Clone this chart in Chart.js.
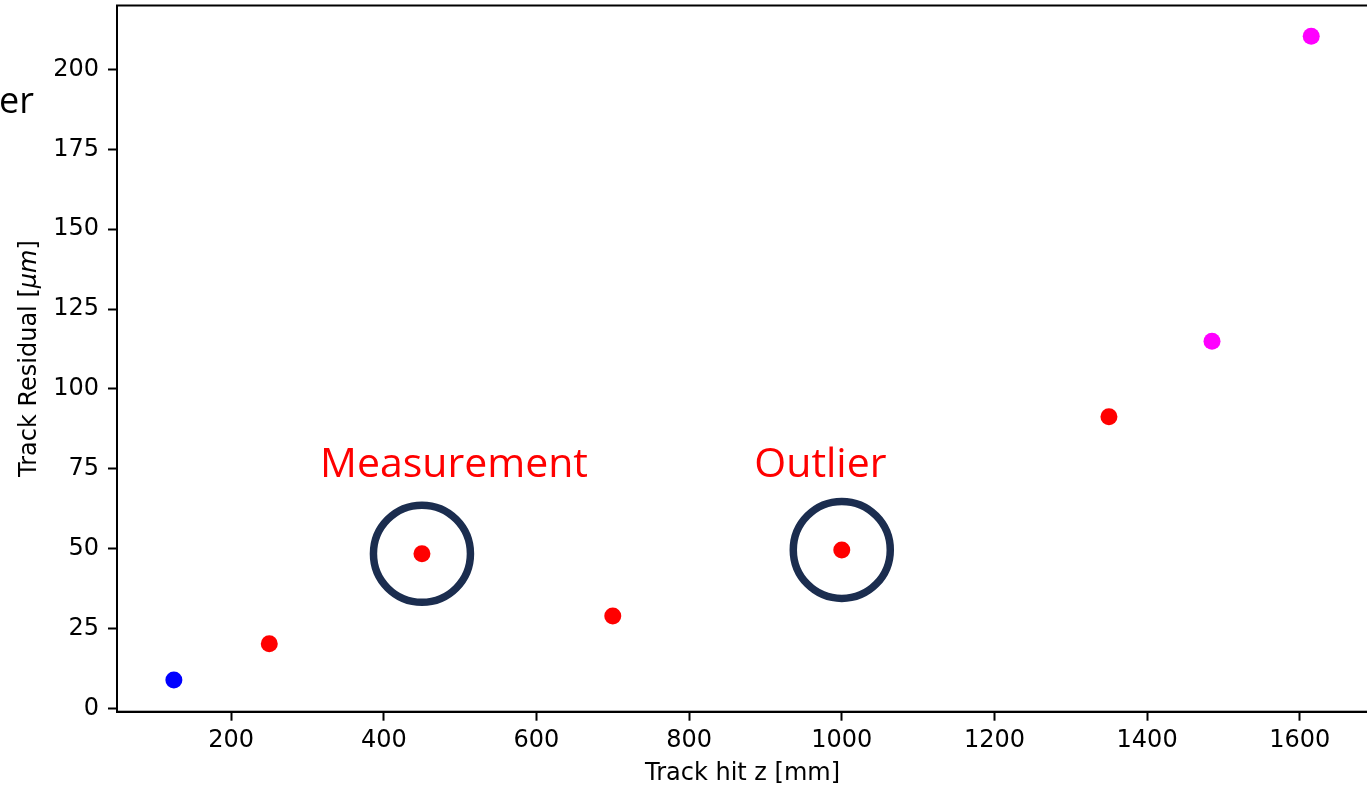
<!DOCTYPE html>
<html>
<head>
<meta charset="utf-8">
<script src="https://cdn.jsdelivr.net/npm/chart.js@4.4.1/dist/chart.umd.min.js"></script>
<style>
  html, body { margin: 0; padding: 0; background: #fff; overflow: hidden; }
  #chart { display: block; }
</style>
</head>
<body>
<canvas id="chart" width="1370" height="785"></canvas>
<script>
// hit positions along the track and their residuals
const hitZ = [125, 250, 450, 700, 1000, 1350, 1485, 1615];
const residuals = [8.9, 20.2, 48.4, 28.9, 49.6, 91.3, 114.9, 210.4];
const pointColors = ['#0000ff', '#ff0000', '#ff0000', '#ff0000', '#ff0000', '#ff0000', '#ff00ff', '#ff00ff'];

const xTicks = [200, 400, 600, 800, 1000, 1200, 1400, 1600];
const yTicks = [0, 25, 50, 75, 100, 125, 150, 175, 200];

// ringed hits and their labels (data units)
const ringedHits = [2, 4];
const labelNames = ['Measurement', 'Outlier'];
const labelZ = [492, 972];
const labelResidual = [72.5, 72.5];

const TICK_FONT = { family: 'DejaVu Sans', size: 24 };

const decorations = {
  id: 'decorations',
  afterDatasetsDraw(chart) {
    const { ctx, chartArea, scales } = chart;
    const xs = scales.x, ys = scales.y;
    ctx.save();

    // full frame (top/right spines)
    ctx.strokeStyle = '#000';
    ctx.lineWidth = 2;
    ctx.strokeRect(chartArea.left, chartArea.top, chartArea.right - chartArea.left, chartArea.bottom - chartArea.top);

    // rings around selected hits
    ctx.strokeStyle = '#1b2d4f';
    ctx.lineWidth = 7.5;
    ringedHits.forEach(i => {
      ctx.beginPath();
      ctx.arc(xs.getPixelForValue(hitZ[i]), ys.getPixelForValue(residuals[i]), 48.5, 0, Math.PI * 2);
      ctx.stroke();
    });

    // red labels
    ctx.fillStyle = '#ff0000';
    ctx.font = '41px "Open Sans"';
    ctx.textAlign = 'center';
    ctx.textBaseline = 'alphabetic';
    labelNames.forEach((t, i) => {
      ctx.fillText(t, xs.getPixelForValue(labelZ[i]), ys.getPixelForValue(labelResidual[i]));
    });

    // x axis title
    ctx.fillStyle = '#000';
    ctx.font = '24px "DejaVu Sans"';
    ctx.fillText('Track hit z [mm]', (chartArea.left + chartArea.right) / 2, 780);

    // y axis title with italic unit
    const parts = [['Track Residual [', 'normal'], ['\u03bcm', 'italic'], [']', 'normal']];
    let total = 0;
    parts.forEach(p => { ctx.font = p[1] + ' 24px "DejaVu Sans"'; total += ctx.measureText(p[0]).width; });
    ctx.translate(36, (chartArea.top + chartArea.bottom) / 2);
    ctx.rotate(-Math.PI / 2);
    ctx.textAlign = 'left';
    let x = -total / 2;
    parts.forEach(p => {
      ctx.font = p[1] + ' 24px "DejaVu Sans"';
      ctx.fillText(p[0], x, 0);
      x += ctx.measureText(p[0]).width;
    });
    ctx.restore();

    // cropped slide text at the left edge
    ctx.save();
    ctx.fillStyle = '#000';
    ctx.font = '36px "Open Sans"';
    ctx.textAlign = 'right';
    ctx.fillText('er', 34, 113);
    ctx.restore();
  }
};

new Chart(document.getElementById('chart'), {
  type: 'scatter',
  data: {
    datasets: [{
      data: hitZ.map((z, i) => ({ x: z, y: residuals[i] })),
      pointBackgroundColor: pointColors,
      pointBorderWidth: 0,
      pointRadius: 8.5,
      pointHoverRadius: 8.5
    }]
  },
  options: {
    responsive: false,
    animation: false,
    events: [],
    layout: { autoPadding: false, padding: { left: 0, top: 5.5, right: 1.9, bottom: 0 } },
    plugins: { legend: { display: false }, tooltip: { enabled: false } },
    scales: {
      x: {
        type: 'linear',
        min: 50.5,
        max: 1689.5,
        afterFit: s => { s.height = 73.3; s.paddingLeft = 0; s.paddingRight = 0; },
        afterBuildTicks: s => { s.ticks = xTicks.map(v => ({ value: v })); },
        ticks: { includeBounds: false, color: '#000', font: TICK_FONT, padding: 6, maxRotation: 0, callback: v => String(v) },
        grid: { drawOnChartArea: false, tickLength: 9, tickWidth: 2, tickColor: '#000' },
        border: { display: true, color: '#000', width: 2 }
      },
      y: {
        type: 'linear',
        min: -1.05,
        max: 220.05,
        afterFit: s => { s.width = 117; s.paddingTop = 0; s.paddingBottom = 0; },
        afterBuildTicks: s => { s.ticks = yTicks.map(v => ({ value: v })); },
        ticks: { includeBounds: false, color: '#000', font: TICK_FONT, padding: 9, callback: v => String(v) },
        grid: { drawOnChartArea: false, tickLength: 9, tickWidth: 2, tickColor: '#000' },
        border: { display: true, color: '#000', width: 2 }
      }
    }
  },
  plugins: [decorations]
});
</script>
</body>
</html>
